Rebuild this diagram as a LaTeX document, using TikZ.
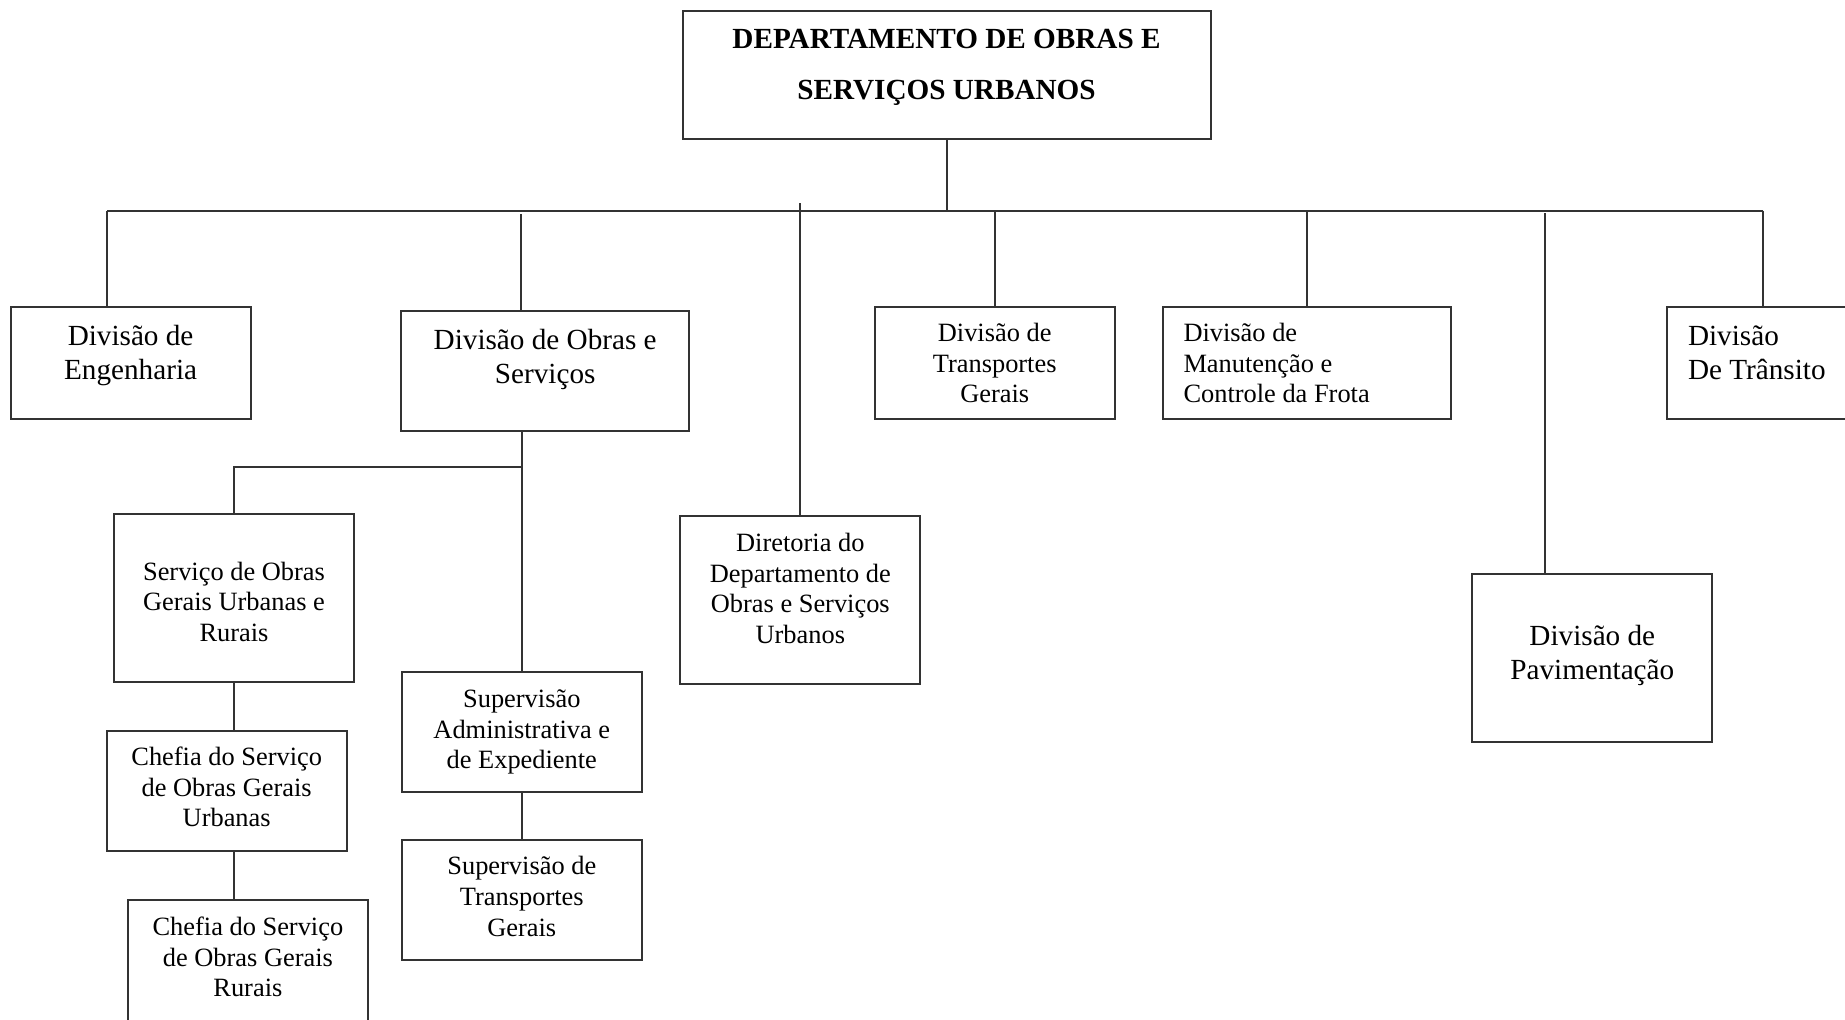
\documentclass[tikz,border=0pt]{standalone}
\usepackage{fontspec}
\setmainfont{Liberation Serif}
\tikzset{sz/.style 2 args={minimum width=#1, minimum height=#2}}
\newcommand{\lowr}[1]{\rule[-#1]{0pt}{#1}} % extra depth, lifts the text
\newcommand{\highr}[1]{\rule{0pt}{#1}} % extra height, drops the text
\begin{document}
\begin{tikzpicture}[x=0.5pt, y=-0.5pt] % 1 unit = 1 px
\tikzstyle{box} = [draw=black!80, line width=1pt, rectangle, inner sep=0pt, align=center]
\tikzstyle{big} = [font=\fontsize{14.6}{17}\selectfont]
\tikzstyle{small} = [font=\fontsize{13.2}{15.3}\selectfont]
\tikzstyle{wire} = [draw=black!80, line width=1pt]
\useasboundingbox (0,0) rectangle (1845,1019);
\clip (0,0) rectangle (1845,1019);
% top
\node[box, sz={264pt}{64pt}, font=\fontsize{14.6}{25.5}\selectfont\bfseries] (dep) at (946.5,75) {DEPARTAMENTO DE OBRAS E\\SERVIÇOS URBANOS\lowr{10.7pt}};
% first row
\node[box, big, sz={120pt}{56pt}] (eng) at (130.6,363) {Divisão de\\Engenharia\lowr{10.2pt}};
\node[box, big, sz={144pt}{60pt}] (obras) at (545.2,371) {Divisão de Obras e\\Serviços\lowr{14.9pt}};
\node[box, small, sz={120pt}{84pt}] (dir) at (800.3,600) {Diretoria do\\Departamento de\\Obras e Serviços\\Urbanos\lowr{11.8pt}};
\node[box, small, sz={120pt}{56pt}] (transp) at (994.7,363) {Divisão de\\Transportes\\Gerais};
\node[box, small, sz={144pt}{56pt}, inner xsep=10.5pt, text width=123pt, align=flush left] (manut) at (1306.5,363) {Divisão de\\Manutenção e\\Controle da Frota};
\node[box, big, sz={120pt}{84pt}] (pavim) at (1592.3,658) {Divisão de\\Pavimentação\lowr{5.8pt}};
\node[box, big, sz={120pt}{56pt}, inner xsep=10.5pt, text width=99pt, align=flush left] (transito) at (1787,363) {Divisão\\De Trânsito\lowr{10pt}};
% under obras
\node[box, small, sz={120pt}{84pt}] (serv) at (234,598) {\highr{13.1pt}Serviço de Obras\\Gerais Urbanas e\\Rurais};
\node[box, small, sz={120pt}{60pt}] (chefU) at (226.7,790.5) {Chefia do Serviço\\de Obras Gerais\\Urbanas\lowr{3.6pt}};
\node[box, small, sz={120pt}{66pt}] (chefR) at (247.9,966) {\highr{9pt}Chefia do Serviço\\de Obras Gerais\\Rurais\lowr{9pt}};
\node[box, small, sz={120pt}{60pt}] (supAdm) at (521.8,732) {Supervisão\\Administrativa e\\de Expediente};
\node[box, small, sz={120pt}{60pt}] (supTr) at (521.8,900) {Supervisão de\\Transportes\\Gerais\lowr{3.6pt}};
% connectors
\coordinate (barL) at (107,210.6);
\coordinate (barR) at (1763,210.6);
\draw[wire] (barL) -- (barR);
\draw[wire] (dep) -- (dep |- barL);
\foreach \n/\x/\y in {eng/107/210.6, obras/521/214, dir/800/203, transp/995/210.6, manut/1307/210.6, pavim/1545/213, transito/1763/210.6}
{
\coordinate (t\n) at (\x,\y);
\draw[wire] (t\n) -- (t\n |- \n.north);
}
\coordinate (split) at (521.8,466.6);
\draw[wire] (supAdm.north |- obras.south) -- (supAdm.north);
\draw[wire] (split) -- (split -| serv) -- (serv.north);
\draw[wire] (serv.south) -- (serv.south |- chefU.north);
\draw[wire] (serv.south |- chefU.south) -- (serv.south |- chefR.north);
\draw[wire] (supAdm) -- (supTr);
\end{tikzpicture}
\end{document}
